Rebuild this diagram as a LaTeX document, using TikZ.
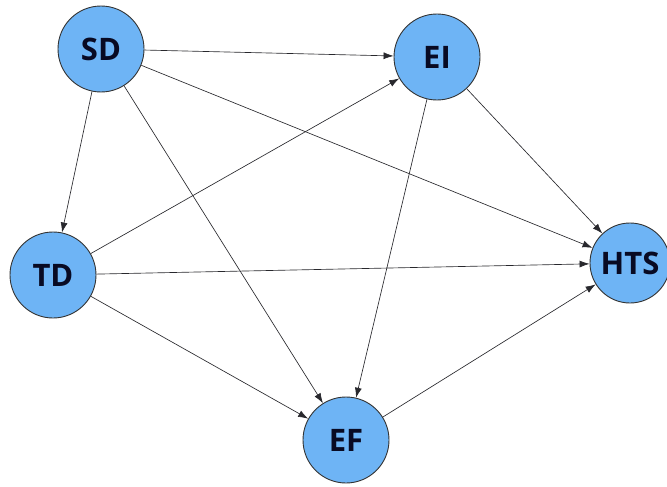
\documentclass[tikz,border=0pt]{standalone}
\usepackage{fontspec}
\setmainfont{Open Sans}
\usetikzlibrary{arrows.meta}
\definecolor{nodefill}{RGB}{110,180,245}
\definecolor{nodetext}{RGB}{8,10,35}
\definecolor{edgecol}{RGB}{40,40,45}
\tikzset{
  vnode/.style={circle, draw=black!80, line width=0.9pt, fill=nodefill, minimum size=86pt, inner sep=0pt,
    font=\fontsize{31}{31}\selectfont\bfseries, text=nodetext},
  edge/.style={draw=edgecol, line width=0.65pt, -{Latex[length=10pt,width=7pt]}}
}
\begin{document}
\begin{tikzpicture}[x=1pt,y=-1pt]
\useasboundingbox (0,0) rectangle (667,487);
\fill[white] (0,0) rectangle (667,487);
\node[vnode] (SD) at (101,49) {SD};
\node[vnode] (EI) at (437,57) {EI};
\node[vnode] (TD) at (53,275) {TD};
\node[vnode, minimum size=80pt] (HTS) at (630,263) {HTS};
\node[vnode] (EF) at (346,440) {EF};
\draw[edge] (SD) -- (EI);
\draw[edge] (SD) -- (TD);
\draw[edge] (SD) -- (EF);
\draw[edge] (SD) -- (HTS);
\draw[edge] (EI) -- (HTS);
\draw[edge] (EI) -- (EF);
\draw[edge] (TD) -- (EI);
\draw[edge] (TD) -- (HTS);
\draw[edge] (TD) -- (EF);
\draw[edge] (EF) -- (HTS);
\end{tikzpicture}
\end{document}
